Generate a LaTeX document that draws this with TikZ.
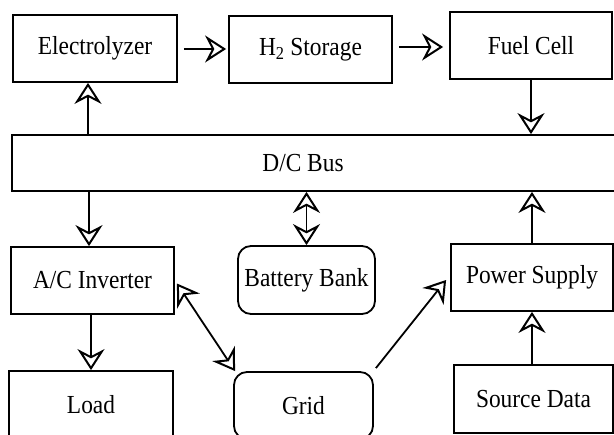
\documentclass[tikz,border=0pt]{standalone}
\usepackage{fontspec}
\setmainfont{Liberation Serif}[FakeStretch=0.9]
\usetikzlibrary{arrows.meta,calc}
\begin{document}
\begin{tikzpicture}[x=1pt,y=-1pt,
  box/.style={draw,line width=1.8pt,inner sep=0pt,font=\fontsize{26}{30}\selectfont},
  rbox/.style={box,rounded corners=13pt},
  tip/.tip={Stealth[open,line width=2pt,length=21pt,width=27pt,inset=7pt]},
  arr/.style={line width=1.8pt,-tip},
  darr/.style={line width=1.8pt,tip-tip}]
\useasboundingbox (0,0) rectangle (614,435);
\fill[white] (0,0) rectangle (614,435);
\clip (0,0) rectangle (614,435);
\node[box,minimum width=164pt,minimum height=67pt] (el) at (95,48.5) {Electrolyzer};
\node[box,minimum width=163pt,minimum height=67pt] (h2) at (310.5,49.5) {H\textsubscript{2} Storage};
\node[box,minimum width=162pt,minimum height=67pt] (fc) at (531,45.5) {Fuel Cell};
\node[box,minimum width=608pt,minimum height=56pt] (bus) at (316,163) {};
\node[font=\fontsize{26}{30}\selectfont,inner sep=0pt] (bustext) at (303,163) {D/C Bus};
\node[box,minimum width=163pt,minimum height=67pt] (ac) at (92.5,280.5) {A/C Inverter};
\node[rbox,minimum width=137pt,minimum height=68pt] (bat) at (306.5,280) {Battery Bank};
\node[box,minimum width=162pt,minimum height=67pt] (ps) at (532,277.5) {Power Supply};
\node[box,minimum width=164pt,minimum height=67pt] (load) at (91,404.5) {Load};
\node[rbox,minimum width=139pt,minimum height=67pt] (grid) at (303.5,405.5) {Grid};
\node[box,minimum width=159pt,minimum height=68pt] (sd) at (533.5,399) {Source Data};
% top row
\draw[arr] ($(el.east)+(6,0.5)$) -- ($(h2.west |- el.east)+(-2,0.5)$);
\draw[arr] ($(h2.east)+(6,-2.5)$) -- ($(fc.west |- h2.east)+(-6,-2.5)$);
% bus connections
\draw[arr] (88,0 |- bus.north) -- (88,0 |- el.south);
\draw[arr] (fc.south) -- (fc.south |- bus.north);
\draw[arr] (89,0 |- bus.south) -- (89,0 |- ac.north);
\draw[darr] (bat.north |- bus.south) -- (bat.north);
\draw[arr] (ps.north) -- (ps.north |- bus.south);
% lower
\draw[arr] (91,0 |- ac.south) -- (91,0 |- load.north);
\draw[darr] ($(ac.east)+(2,3)$) -- ($(grid.north west)+(2,0)$);
\draw[arr] ($(grid.north east)+(2,-3)$) -- ($(ps.west)+(-4,2.5)$);
\draw[arr] (532,0 |- sd.north) -- (532,0 |- ps.south);
\end{tikzpicture}
\end{document}
